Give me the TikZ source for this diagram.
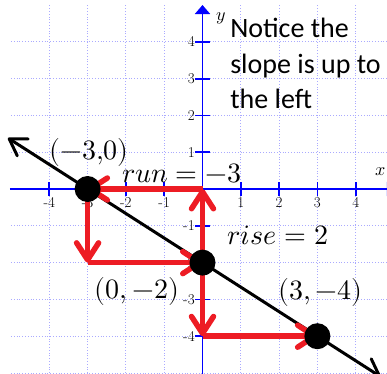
\documentclass[tikz,border=0pt]{standalone}
\usepackage{fontspec}
\usepackage{unicode-math}
\newfontfamily\notefont{Carlito}
\usetikzlibrary{arrows.meta}
\definecolor{arrred}{RGB}{237,28,36}
\definecolor{gridblue}{RGB}{170,170,255}
\tikzset{
  gridline/.style={gridblue,dotted,line width=.8pt},
  axisline/.style={blue,line width=1.8pt},
  ticklab/.style={font=\fontsize{15}{15}\selectfont,inner sep=0pt},
  stepline/.style={arrred,line width=5.5pt,-{Straight Barb[length=17pt,width=22pt,round]}},
  dot/.style={circle,fill=black,minimum size=26pt,inner sep=0pt},
  coordlab/.style={font=\fontsize{28}{28}\selectfont,inner sep=0pt}
}
\begin{document}
\begin{tikzpicture}[x=38.3pt,y=36.8pt]
\clip(-202.5pt,-184pt)rectangle(184.5pt,189pt);
% grid and axes
\foreach\i in{-4,...,4}\draw[gridline](\i,-5)--(\i,5);
\foreach\j in{-5,...,4}\draw[gridline](-5,\j)--(5,\j);
\draw[axisline,-{Triangle[length=9pt,width=14pt]}](-5.03,0)--(5.05,0);
\draw[axisline,-{Triangle[length=9pt,width=15pt]}](0,-5.2)--(0,5);
\foreach\i in{-4,...,-1,1,2,3,4}{\draw[axisline](\i,-.19)--(\i,.19);\node[ticklab,anchor=base]at(\i,-.5){\i};}
\foreach\j in{-4,...,-1,1,2,3,4}{\draw[axisline](-.2,\j)--(.2,\j);\node[ticklab,anchor=east]at(-.2,\j){\j};}
\node[font=\fontsize{18}{18}\selectfont,inner sep=0pt,anchor=base](ylab)at(.5,4.59){$y$};
\node[font=\fontsize{18}{18}\selectfont,inner sep=0pt,anchor=base east](xlab)at(4.8,.38){$x$};
% the line
\coordinate(lft)at(-5.08,1.387);\coordinate(rgt)at(4.65,-5.1);
\draw[line width=3pt,{Straight Barb[length=16pt,width=20pt,round]}-{Straight Barb[length=16pt,width=20pt,round]}](lft)--(rgt);
% rise and run
\coordinate(a)at(-3,0);\coordinate(b)at(0,-2);\coordinate(c)at(3,-4);
\coordinate(o)at(0,0);\coordinate(p)at(-3,-2);\coordinate(q)at(0,-4);
\draw[stepline](b)--(o);\draw[stepline](o)--(a);
\draw[stepline](a)--(p);\draw[stepline](p)--(b);
\draw[stepline](b)--(q);\draw[stepline](q)--(c);
\node[dot](da)at(a){};\node[dot](db)at(b){};\node[dot](dc)at(c){};
% labels
\node[coordlab](la)at(-2.96,.98){$(-3{,}0)$};
\node[coordlab,anchor=base](lrun)at(-.54,.18){$run=-3$};
\node[coordlab,anchor=base](lrise)at(1.97,-1.51){$rise=2$};
\node[coordlab](lb)at(-1.71,-2.79){$(0,-2)$};
\node[coordlab](lc)at(3.08,-2.81){$(3,-4)$};
\node[font=\notefont\fontsize{28}{35.5}\selectfont,align=left,anchor=north west,inner sep=0pt](note)at(.72,4.65){Notice the\\slope is up to\\the left};
\end{tikzpicture}
\end{document}
